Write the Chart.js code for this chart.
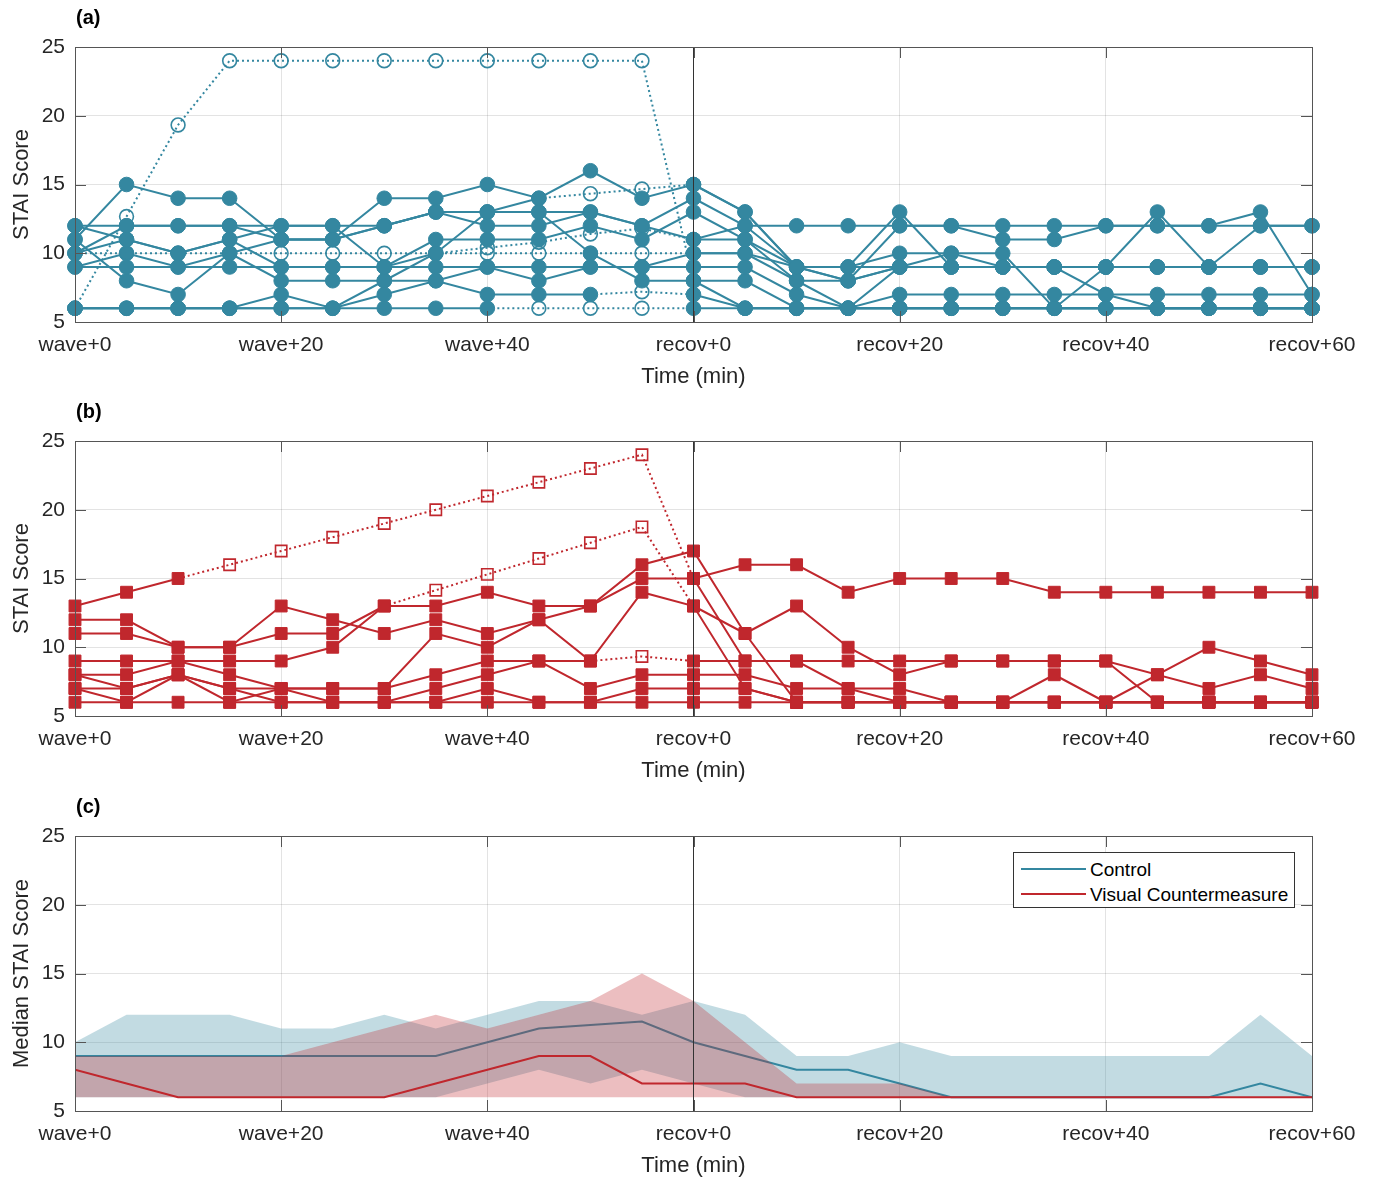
<!DOCTYPE html>
<html>
<head>
<meta charset="utf-8">
<title>STAI scores – Control vs Visual Countermeasure</title>
<script src="https://cdn.jsdelivr.net/npm/chart.js@4.4.1/dist/chart.umd.min.js"></script>
<style>
  html, body { margin: 0; padding: 0; background: #fff; }
  body { width: 1375px; height: 1179px; position: relative; overflow: hidden;
         font-family: "Liberation Sans", Arial, sans-serif; color: #262626; }
  .panel { position: absolute; left: 0; width: 1375px; height: 394px; }
  .tag { position: absolute; left: 76px; font-weight: bold; font-size: 20px; color: #000; }
  #legend { position: absolute; left: 1013px; top: 852px; width: 280px; height: 54px;
            border: 1px solid #333; background: #fff; }
  #legend .row { position: absolute; left: 0; height: 24px; font-size: 19px; line-height: 24px; }
  #legend .sample { position: absolute; left: 7px; top: 11px; width: 65px; height: 0; border-top: 2px solid; }
  #legend .label { position: absolute; left: 76px; top: 1px; white-space: nowrap; color: #000; }
</style>
</head>
<body>
<div class="panel" style="top:0px"><canvas id="chart-a" width="1375" height="394"></canvas></div>
<div class="panel" style="top:394px"><canvas id="chart-b" width="1375" height="394"></canvas></div>
<div class="panel" style="top:789px"><canvas id="chart-c" width="1375" height="394"></canvas></div>
<div class="tag" style="top:6px">(a)</div>
<div class="tag" style="top:400px">(b)</div>
<div class="tag" style="top:795px">(c)</div>
<div id="legend">
  <div class="row" style="top:4px"><span class="sample" style="border-color:#3487a0"></span><span class="label">Control</span></div>
  <div class="row" style="top:29px"><span class="sample" style="border-color:#c0272d"></span><span class="label">Visual Countermeasure</span></div>
</div>
<script>
// time axis: wave phase 0-55 min, recovery 0-60 min (recov+0 = 60)
const minutes = [0, 5, 10, 15, 20, 25, 30, 35, 40, 45, 50, 55, 60, 65, 70, 75, 80, 85, 90, 95, 100, 105, 110, 115, 120];
const xTickValues = [0, 20, 40, 60, 80, 100, 120];
const xTickLabels = ["wave+0", "wave+20", "wave+40", "recov+0", "recov+20", "recov+40", "recov+60"];
const recovStart = 60;
const yRange = [5, 25];

// (a) control subjects, one row per subject
const controlScores = [
  [12, 12, 12, 12, 12, 12, 12, 13, 13, 13, 13, 12, 11, 12, 12, 12, 12, 12, 12, 12, 12, 12, 12, 12, 12],
  [11, 15, 14, 14, 11, 11, 14, 14, 15, 14, 16, 14, 15, 13, 9, 9, 13, 9, 9, 9, 9, 9, 9, 9, 9],
  [10, 12, 12, 12, 11, 11, 12, 13, 12, 12, 13, 12, 14, 12, 9, 9, 10, 10, 10, 6, 9, 13, 9, 12, 12],
  [10, 11, 10, 11, 9, 9, 9, 11, 11, 11, 12, 11, 13, 11, 8, 8, 12, 12, 11, 11, 12, 12, 12, 13, 7],
  [9, 9, 9, 9, 9, 9, 9, 9, 9, 9, 9, 9, 10, 10, 8, 6, 7, 7, 7, 7, 7, 7, 7, 7, 7],
  [11, 8, 7, 10, 8, 8, 8, 8, 9, 8, 9, 9, 9, 9, 7, 6, 6, 6, 6, 6, 6, 6, 6, 6, 6],
  [6, 6, 6, 6, 7, 6, 8, 10, 13, 13, 10, 8, 8, 8, 6, 6, 6, 6, 6, 6, 6, 6, 6, 6, 6],
  [6, 6, 6, 6, 6, 6, 7, 8, 7, 7, 7, 7.2, 7, 6, 6, 6, 6, 6, 6, 6, 6, 6, 6, 6, 6],
  [6, 6, 6, 6, 6, 6, 6, 6, 6, 6, 6, 6, 6, 6, 6, 6, 9, 10, 9, 9, 7, 6, 6, 6, 6],
  [6, 12.67, 19.33, 24, 24, 24, 24, 24, 24, 24, 24, 24, 8, 6, 6, 6, 6, 6, 6, 6, 6, 6, 6, 6, 6],
  [10, 10, 10, 10, 10, 10, 10, 10, 10, 10, 10, 10, 10, 10, 9, 8, 9, 9, 9, 9, 9, 9, 9, 9, 9],
  [9, 10, 9, 10, 11, 11, 12, 13, 13, 14, 14.33, 14.67, 15, 13, 9, 8, 9, 9, 9, 9, 9, 9, 9, 9, 9],
  [12, 11, 10, 11, 12, 12, 9, 10, 10.4, 10.8, 11.4, 11.8, 11, 11, 9, 9, 9, 9, 9, 9, 9, 9, 9, 9, 9]
];
// indices of imputed (missing) values, drawn hollow with dotted links
const controlImputed = [
  [], [], [], [], [], [], [], [11], [9, 10, 11],
  [1, 2, 3, 4, 5, 6, 7, 8, 9, 10, 11],
  [1, 2, 3, 4, 5, 6, 7, 8, 9, 10, 11],
  [10, 11],
  [8, 9, 10, 11]
];

// (b) visual countermeasure subjects
const vcScores = [
  [13, 14, 15, 16, 17, 18, 19, 20, 21, 22, 23, 24, 15, 16, 16, 14, 15, 15, 15, 14, 14, 14, 14, 14, 14],
  [12, 12, 10, 10, 11, 11, 13, 14.15, 15.3, 16.45, 17.6, 18.75, 13, 11, 13, 10, 8, 9, 9, 9, 9, 8, 10, 9, 8],
  [11, 11, 10, 10, 13, 12, 11, 12, 11, 12, 13, 16, 17, 11, 6, 6, 6, 6, 6, 6, 6, 6, 6, 6, 6],
  [9, 9, 9, 9, 9, 10, 13, 13, 14, 13, 13, 15, 15, 9, 9, 9, 9, 9, 9, 9, 9, 6, 6, 6, 6],
  [8, 8, 9, 8, 7, 7, 7, 8, 9, 9, 9, 9.33, 9, 9, 9, 7, 7, 6, 6, 6, 6, 6, 6, 6, 6],
  [7, 7, 8, 7, 6, 6, 6, 7, 8, 9, 7, 8, 8, 8, 7, 7, 6, 6, 6, 8, 6, 8, 7, 8, 7],
  [6, 6, 6, 6, 6, 6, 6, 6, 6, 6, 6, 6, 6, 6, 6, 6, 6, 6, 6, 6, 6, 6, 6, 6, 6],
  [7, 6, 8, 6, 7, 7, 7, 11, 10, 12, 9, 14, 13, 7, 6, 6, 6, 6, 6, 6, 6, 6, 6, 6, 6],
  [8, 7, 8, 7, 7, 6, 6, 6, 7, 6, 6, 7, 7, 7, 6, 6, 6, 6, 6, 6, 6, 6, 6, 6, 6]
];
const vcImputed = [
  [3, 4, 5, 6, 7, 8, 9, 10, 11],
  [7, 8, 9, 10, 11],
  [], [], [11], [], [], [], []
];

// (c) medians and spread bands
const controlMedian = [9, 9, 9, 9, 9, 9, 9, 9, 10, 11, 11.25, 11.5, 10, 9, 8, 8, 7, 6, 6, 6, 6, 6, 6, 7, 6];
const controlUpper  = [10, 12, 12, 12, 11, 11, 12, 11, 12, 13, 13, 12, 13, 12, 9, 9, 10, 9, 9, 9, 9, 9, 9, 12, 9];
const controlLower  = [6, 6, 6, 6, 6, 6, 6, 6, 7, 8, 7, 8, 7, 6, 6, 6, 6, 6, 6, 6, 6, 6, 6, 6, 6];
const vcMedian = [8, 7, 6, 6, 6, 6, 6, 7, 8, 9, 9, 7, 7, 7, 6, 6, 6, 6, 6, 6, 6, 6, 6, 6, 6];
const vcUpper  = [9, 9, 9, 9, 9, 10, 11, 12, 11, 12, 13, 15, 13, 10, 7, 7, 7, 6, 6, 6, 6, 6, 6, 6, 6];
const vcLower  = [6, 6, 6, 6, 6, 6, 6, 6, 6, 6, 6, 6, 6, 6, 6, 6, 6, 6, 6, 6, 6, 6, 6, 6, 6];

const BLUE = "#3487a0";
const RED = "#c0272d";
const FONT = "'Liberation Sans', Arial, sans-serif";
const TEXT = "#262626";

function toPoints(values) {
  return values.map((v, i) => ({ x: minutes[i], y: v }));
}

// box around the axes with MATLAB-like inward ticks
const framePlugin = {
  id: "frame",
  afterDatasetsDraw(chart) {
    const { ctx, chartArea: a, scales } = chart;
    ctx.save();
    ctx.strokeStyle = "#555";
    ctx.lineWidth = 1;
    ctx.strokeRect(Math.round(a.left) + 0.5, Math.round(a.top) + 0.5, Math.round(a.width), Math.round(a.height));
    ctx.beginPath();
    xTickValues.forEach(v => {
      const px = Math.round(scales.x.getPixelForValue(v)) + 0.5;
      ctx.moveTo(px, a.top); ctx.lineTo(px, a.top + 11);
      ctx.moveTo(px, a.bottom); ctx.lineTo(px, a.bottom - 11);
    });
    for (let v = yRange[0]; v <= yRange[1]; v += 5) {
      const py = Math.round(scales.y.getPixelForValue(v)) + 0.5;
      ctx.moveTo(a.left, py); ctx.lineTo(a.left + 11, py);
      ctx.moveTo(a.right, py); ctx.lineTo(a.right - 11, py);
    }
    ctx.stroke();
    ctx.restore();
  }
};

function recovLine() {
  return {
    data: [{ x: recovStart, y: yRange[0] }, { x: recovStart, y: yRange[1] }],
    borderColor: "#333",
    borderWidth: 1,
    pointRadius: 0,
    fill: false,
    order: 0
  };
}

function subjectDatasets(scores, imputed, color, shape, radius) {
  return scores.map((values, s) => {
    const imp = imputed[s];
    const isImp = i => imp.includes(i);
    return {
      data: toPoints(values),
      borderColor: color,
      borderWidth: 2,
      pointStyle: shape,
      pointRadius: values.map((v, i) => isImp(i) ? radius - 0.4 : radius),
      pointBackgroundColor: values.map((v, i) => isImp(i) ? "rgba(255,255,255,0)" : color),
      pointBorderColor: color,
      pointBorderWidth: values.map((v, i) => isImp(i) ? 1.6 : 1),
      segment: {
        borderDash: ctx => (isImp(ctx.p0DataIndex) || isImp(ctx.p1DataIndex)) ? [2, 3] : undefined
      },
      tension: 0,
      fill: false,
      clip: false,
      order: 1
    };
  });
}

function baseOptions(yTitle) {
  return {
    responsive: false,
    animation: false,
    events: [],
    layout: { padding: { top: 47, right: 63, bottom: 0, left: 0 } },
    plugins: { legend: { display: false }, tooltip: { enabled: false }, title: { display: false } },
    scales: {
      x: {
        type: "linear",
        min: 0,
        max: 120,
        afterBuildTicks: scale => { scale.ticks = xTickValues.map(v => ({ value: v })); },
        afterFit: scale => { scale.height = 72; },
        border: { display: false },
        grid: { color: "rgba(0,0,0,0.11)", drawTicks: false },
        ticks: {
          padding: 11,
          color: TEXT,
          autoSkip: false,
          maxRotation: 0,
          font: { family: FONT, size: 21 },
          callback: v => xTickLabels[xTickValues.indexOf(v)]
        },
        title: {
          display: true,
          text: "Time (min)",
          color: TEXT,
          font: { family: FONT, size: 22 },
          padding: { top: 0, bottom: 4 }
        }
      },
      y: {
        min: yRange[0],
        max: yRange[1],
        afterFit: scale => { scale.width = 75; },
        border: { display: false },
        grid: { color: "rgba(0,0,0,0.11)", drawTicks: false },
        ticks: { stepSize: 5, padding: 10, color: TEXT, font: { family: FONT, size: 21 } },
        title: {
          display: true,
          text: yTitle,
          color: TEXT,
          font: { family: FONT, size: 22 },
          padding: { top: 9, bottom: 0 }
        }
      }
    }
  };
}

// (a) control
new Chart(document.getElementById("chart-a"), {
  type: "line",
  data: { datasets: [recovLine()].concat(subjectDatasets(controlScores, controlImputed, BLUE, "circle", 7.3)) },
  options: baseOptions("STAI Score"),
  plugins: [framePlugin]
});

// (b) visual countermeasure
new Chart(document.getElementById("chart-b"), {
  type: "line",
  data: { datasets: [recovLine()].concat(subjectDatasets(vcScores, vcImputed, RED, "rect", 8.4)) },
  options: baseOptions("STAI Score"),
  plugins: [framePlugin]
});

// (c) medians with bands; higher order is drawn first
new Chart(document.getElementById("chart-c"), {
  type: "line",
  data: {
    datasets: [
      recovLine(),
      { label: "Control upper", data: toPoints(controlUpper), borderWidth: 0, pointRadius: 0,
        backgroundColor: "rgba(52,135,160,0.30)", fill: { target: 2 }, order: 6 },
      { label: "Control lower", data: toPoints(controlLower), borderWidth: 0, pointRadius: 0, fill: false, order: 7 },
      { label: "Control", data: toPoints(controlMedian), borderColor: BLUE, borderWidth: 2,
        pointRadius: 0, fill: false, order: 5 },
      { label: "VC upper", data: toPoints(vcUpper), borderWidth: 0, pointRadius: 0,
        backgroundColor: "rgba(192,39,45,0.30)", fill: { target: 5 }, order: 3 },
      { label: "VC lower", data: toPoints(vcLower), borderWidth: 0, pointRadius: 0, fill: false, order: 4 },
      { label: "Visual Countermeasure", data: toPoints(vcMedian), borderColor: RED, borderWidth: 2,
        pointRadius: 0, fill: false, order: 2 }
    ]
  },
  options: baseOptions("Median STAI Score"),
  plugins: [framePlugin]
});
</script>
</body>
</html>
